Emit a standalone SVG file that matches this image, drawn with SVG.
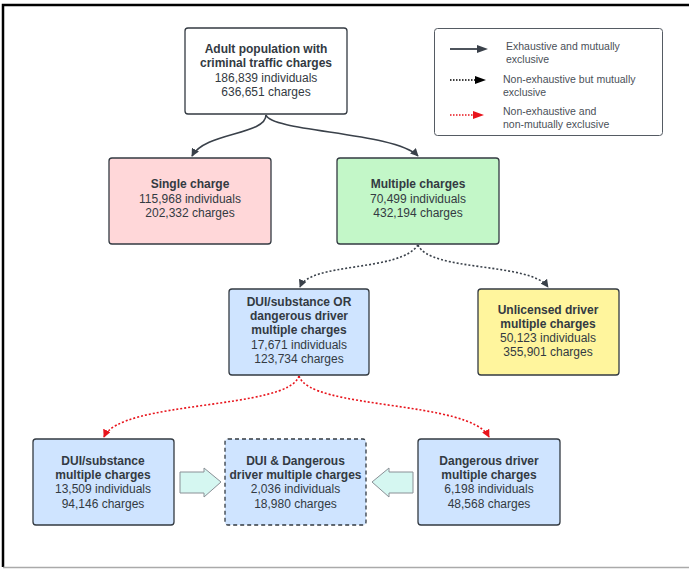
<svg xmlns="http://www.w3.org/2000/svg" width="689" height="569" viewBox="0 0 689 569">
<defs>
<style>
text{font-family:"Liberation Sans",Arial,sans-serif;fill:#333a42;text-anchor:middle;font-size:12px}
.b{font-weight:bold}
.lg{text-anchor:start;font-size:10.5px;fill:#4a5058}
.box{stroke:#333a42;stroke-width:1.3}
.c{fill:none;stroke-width:1.6}
</style>
<marker id="ad" viewBox="0 0 10 10" refX="9" refY="5" markerWidth="8" markerHeight="8" markerUnits="userSpaceOnUse" orient="auto"><path d="M0,0L10,5L0,10z" fill="#3a414a"/></marker>
<marker id="ak" viewBox="0 0 10 10" refX="9" refY="5" markerWidth="8" markerHeight="8" markerUnits="userSpaceOnUse" orient="auto"><path d="M0,0L10,5L0,10z" fill="#000"/></marker>
<marker id="ar" viewBox="0 0 10 10" refX="9" refY="5" markerWidth="8" markerHeight="8" markerUnits="userSpaceOnUse" orient="auto"><path d="M0,0L10,5L0,10z" fill="#e8141c"/></marker>
</defs>
<rect width="689" height="569" fill="#fff"/>
<path d="M3,567V5H689" fill="none" stroke="#000" stroke-width="2.5"/>
<path d="M3,567.5H689" stroke="#aaa" stroke-width="1.5"/>

<g id="connectors">
<path class="c" stroke="#3a414a" d="M266,115C266,135 205,132 192,156" marker-end="url(#ad)"/>
<path class="c" stroke="#3a414a" d="M266,115C272,132 395,132 418,156" marker-end="url(#ad)"/>
<path class="c" stroke="#3a414a" stroke-dasharray="2,2" d="M418,245C400,272 310,262 300,287" marker-end="url(#ad)"/>
<path class="c" stroke="#3a414a" stroke-dasharray="2,2" d="M418,245C430,272 530,262 548,287" marker-end="url(#ad)"/>
<path class="c" stroke="#e8141c" stroke-dasharray="2,2" d="M299,376C288,410 120,400 104,437" marker-end="url(#ar)"/>
<path class="c" stroke="#e8141c" stroke-dasharray="2,2" d="M299,376C310,410 470,400 489,437" marker-end="url(#ar)"/>
</g>

<g id="legend">
<rect x="434.5" y="28.5" width="228" height="107" rx="3" fill="#fff" stroke="#555b63" stroke-width="1"/>
<path d="M450,49H478" stroke="#3a414a" stroke-width="1.8"/>
<path d="M477,45L488,49L477,53z" fill="#3a414a"/>
<path d="M450,80H476" stroke="#000" stroke-width="1.5" stroke-dasharray="1.5,1.5"/>
<path d="M475,76L486,80L475,84z" fill="#000"/>
<path d="M450,115H474" stroke="#e8141c" stroke-width="1.5" stroke-dasharray="1.5,1.5"/>
<path d="M473,111L484,115L473,119z" fill="#e8141c"/>
<text class="lg" x="506" y="50">Exhaustive and mutually</text>
<text class="lg" x="506" y="63">exclusive</text>
<text class="lg" x="503" y="83">Non-exhaustive but mutually</text>
<text class="lg" x="503" y="96">exclusive</text>
<text class="lg" x="503" y="115">Non-exhaustive and</text>
<text class="lg" x="503" y="128">non-mutually exclusive</text>
</g>

<g id="n-adult">
<rect class="box" x="185" y="28" width="162" height="86" rx="3" fill="#fff"/>
<text class="b" x="266" y="53">Adult population with</text>
<text class="b" x="266" y="67">criminal traffic charges</text>
<text x="266" y="82">186,839 individuals</text>
<text x="266" y="96">636,651 charges</text>
</g>

<g id="n-single">
<rect class="box" x="109" y="158" width="162" height="86" rx="3" fill="#ffd7d9"/>
<text class="b" x="190" y="188">Single charge</text>
<text x="190" y="203">115,968 individuals</text>
<text x="190" y="217">202,332 charges</text>
</g>

<g id="n-multiple">
<rect class="box" x="337" y="158" width="162" height="86" rx="3" fill="#c3f7c8"/>
<text class="b" x="418" y="188">Multiple charges</text>
<text x="418" y="203">70,499 individuals</text>
<text x="418" y="217">432,194 charges</text>
</g>

<g id="n-dui-or">
<rect class="box" x="229" y="289" width="140" height="86" rx="3" fill="#cfe4ff"/>
<text class="b" x="299" y="306">DUI/substance OR</text>
<text class="b" x="299" y="320">dangerous driver</text>
<text class="b" x="299" y="334">multiple charges</text>
<text x="299" y="349">17,671 individuals</text>
<text x="299" y="363">123,734 charges</text>
</g>

<g id="n-unlicensed">
<rect class="box" x="478" y="289" width="141" height="86" rx="3" fill="#fff59d"/>
<text class="b" x="548" y="314">Unlicensed driver</text>
<text class="b" x="548" y="328">multiple charges</text>
<text x="548" y="342">50,123 individuals</text>
<text x="548" y="356">355,901 charges</text>
</g>

<g id="n-dui">
<rect class="box" x="33" y="439" width="141" height="86" rx="3" fill="#cfe4ff"/>
<text class="b" x="103" y="465">DUI/substance</text>
<text class="b" x="103" y="479">multiple charges</text>
<text x="103" y="493">13,509 individuals</text>
<text x="103" y="508">94,146 charges</text>
</g>

<g id="n-both">
<rect class="box" x="225" y="439" width="141" height="86" rx="3" fill="#cfe4ff" stroke-dasharray="4,3"/>
<text class="b" x="295.5" y="465">DUI &amp; Dangerous</text>
<text class="b" x="295.5" y="479">driver multiple charges</text>
<text x="295.5" y="493">2,036 individuals</text>
<text x="295.5" y="508">18,980 charges</text>
</g>

<g id="n-dangerous">
<rect class="box" x="418" y="439" width="142" height="86" rx="3" fill="#cfe4ff"/>
<text class="b" x="489" y="465">Dangerous driver</text>
<text class="b" x="489" y="479">multiple charges</text>
<text x="489" y="493">6,198 individuals</text>
<text x="489" y="508">48,568 charges</text>
</g>

<g id="block-arrows">
<path d="M180,472H204V468L221,482L204,497V493H180z" fill="#d5f7f1" stroke="#8a9096" stroke-width="1"/>
<path d="M413,472H389V468L372,482L389,497V493H413z" fill="#d5f7f1" stroke="#8a9096" stroke-width="1"/>
</g>
</svg>
